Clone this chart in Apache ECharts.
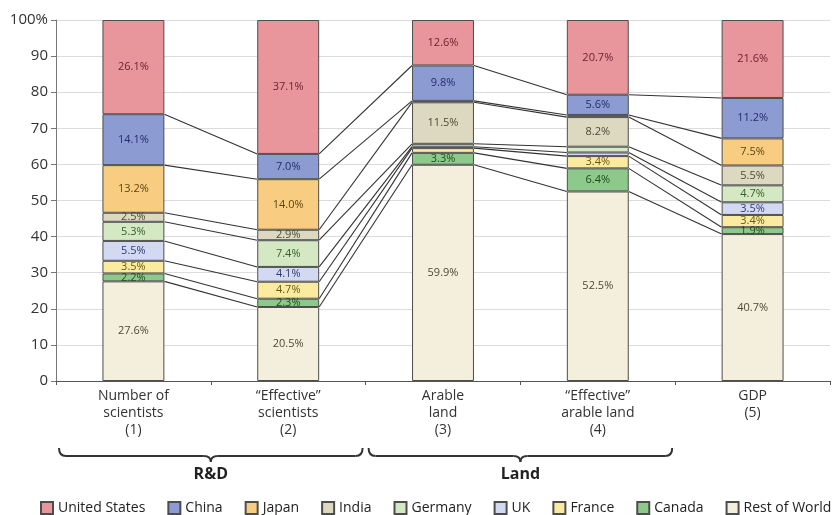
<!DOCTYPE html>
<html>
<head>
<meta charset="utf-8">
<script src="https://cdn.jsdelivr.net/npm/echarts@6/dist/echarts.min.js"></script>
<style>
html,body{margin:0;padding:0;background:#fff;}
#chart{width:833px;height:515px;}
</style>
</head>
<body>
<div id="chart"></div>
<script>
// Categories (x axis)
const categories = ['Number of\nscientists\n(1)', '\u201cEffective\u201d\nscientists\n(2)', 'Arable\nland\n(3)', '\u201cEffective\u201d\narable land\n(4)', 'GDP\n(5)'];
// Series values, percent share (stack order bottom -> top)
const restOfWorld  = [27.6, 20.5, 59.9, 52.5, 40.7];
const canada       = [2.2, 2.3, 3.3, 6.4, 1.9];
const france       = [3.5, 4.7, 1.3, 3.4, 3.4];
const uk           = [5.5, 4.1, 0.4, 1.0, 3.5];
const germany      = [5.3, 7.4, 0.8, 1.6, 4.7];
const india        = [2.5, 2.9, 11.5, 8.2, 5.5];
const japan        = [13.2, 14.0, 0.4, 0.6, 7.5];
const china        = [14.1, 7.0, 9.8, 5.6, 11.2];
const unitedStates = [26.1, 37.1, 12.6, 20.7, 21.6];
// Y tick labels
const yTicks = [0, 10, 20, 30, 40, 50, 60, 70, 80, 90, 100];
// Group braces
const groups = [{name: 'R&D', from: 0, to: 1}, {name: 'Land', from: 2, to: 3}];

const seriesDefs = [
  {name: 'Rest of World', data: restOfWorld, color: '#F4EEDC', text: '#4a4a3a'},
  {name: 'Canada', data: canada, color: '#8DC98A', text: '#1d4d1d'},
  {name: 'France', data: france, color: '#FBEBA0', text: '#6a5a10'},
  {name: 'UK', data: uk, color: '#D3D9F1', text: '#2f3a78'},
  {name: 'Germany', data: germany, color: '#D4E8C4', text: '#355f2c'},
  {name: 'India', data: india, color: '#DDD9C0', text: '#4e4a36'},
  {name: 'Japan', data: japan, color: '#F8CD82', text: '#5e4510'},
  {name: 'China', data: china, color: '#8C9BD2', text: '#232e6a'},
  {name: 'United States', data: unitedStates, color: '#E8959C', text: '#6a1f2a'}
];
const legendOrder = ['United States', 'China', 'Japan', 'India', 'Germany', 'UK', 'France', 'Canada', 'Rest of World'];

// cumulative boundaries for connector lines
const connectorData = [];
for (let s = 0; s < seriesDefs.length - 1; s++) {
  const cum = categories.map((_, i) => {
    let t = 0;
    for (let k = 0; k <= s; k++) t += seriesDefs[k].data[i];
    return t;
  });
  for (let i = 0; i < categories.length - 1; i++) {
    connectorData.push([i, cum[i], cum[i + 1]]);
  }
}

const FONT = 'Open Sans';
const BARW = 0.4;

const series = seriesDefs.map(d => ({
  name: d.name,
  type: 'bar',
  stack: 'total',
  barWidth: (BARW * 100) + '%',
  data: d.data,
  z: 3,
  itemStyle: {color: d.color, borderColor: '#4d4d4d', borderWidth: 1},
  label: {
    show: true,
    position: 'inside',
    fontFamily: FONT,
    fontSize: 11,
    color: d.text,
    formatter: p => (p.value >= 1.8 ? p.value.toFixed(1) + '%' : '')
  },
  emphasis: {disabled: true}
}));

series.push({
  type: 'custom',
  name: 'connectors',
  data: connectorData,
  encode: {x: 0, y: 1},
  z: 2,
  silent: true,
  renderItem: function (params, api) {
    const i = api.value(0);
    const p0 = api.coord([i, api.value(1)]);
    const p1 = api.coord([i + 1, api.value(2)]);
    const half = api.size([1, 0])[0] * BARW / 2;
    return {
      type: 'line',
      shape: {x1: p0[0] + half, y1: p0[1], x2: p1[0] - half, y2: p1[1]},
      style: {stroke: '#333', lineWidth: 1.1}
    };
  }
});

const chart = echarts.init(document.getElementById('chart'), null, {renderer: 'canvas'});
chart.setOption({
  animation: false,
  backgroundColor: '#fff',
  grid: {left: 56, right: 3, top: 20, bottom: 134, containLabel: false},
  legend: {
    data: legendOrder,
    top: 499,
    left: 40,
    padding: [0, 0],
    itemWidth: 12,
    itemHeight: 12,
    itemGap: 22,
    icon: 'rect',
    textStyle: {fontFamily: FONT, fontSize: 14, color: '#222', lineHeight: 18}
  },
  xAxis: {
    type: 'category',
    data: categories,
    axisLine: {lineStyle: {color: '#555', width: 1}},
    axisTick: {show: true, length: 4, lineStyle: {color: '#555'}},
    axisLabel: {fontFamily: FONT, fontSize: 14, color: '#333', lineHeight: 17, margin: 7, interval: 0}
  },
  yAxis: {
    type: 'value',
    min: 0, max: 100, interval: 10,
    axisLine: {show: true, lineStyle: {color: '#777'}},
    axisTick: {show: true, length: 5, lineStyle: {color: '#777'}},
    splitLine: {lineStyle: {color: '#dcdcdc'}},
    axisLabel: {
      fontFamily: FONT, fontSize: 15, color: '#333', margin: 8,
      formatter: v => (yTicks.indexOf(v) >= 0 ? (v === 100 ? '100%' : String(v)) : '')
    }
  },
  series: series
});

// braces under category groups
const c0 = chart.convertToPixel({xAxisIndex: 0}, 0);
const c1 = chart.convertToPixel({xAxisIndex: 0}, 1);
const band = c1 - c0;
const yLine = 456, yEnd = 448, yTip = 462;
const graphics = [];
const braceStyle = {stroke: '#333', lineWidth: 2, fill: null};
groups.forEach(g => {
  const x0 = c0 + (g.from - 0.5) * band + 3;
  const x1 = c0 + (g.to + 0.5) * band - 3;
  const tip = (x0 + x1) / 2;
  const r = 7;
  const curves = [
    [x0, yEnd, x0 + r, yLine, x0, yLine],
    [tip - r, yLine, tip, yTip, tip, yLine],
    [tip, yTip, tip + r, yLine, tip, yLine],
    [x1 - r, yLine, x1, yEnd, x1, yLine]
  ];
  curves.forEach(c => graphics.push({
    type: 'bezierCurve',
    shape: {x1: c[0], y1: c[1], x2: c[2], y2: c[3], cpx1: c[4], cpy1: c[5]},
    style: braceStyle, silent: true
  }));
  graphics.push({type: 'line', shape: {x1: x0 + r, y1: yLine, x2: tip - r, y2: yLine}, style: braceStyle, silent: true});
  graphics.push({type: 'line', shape: {x1: tip + r, y1: yLine, x2: x1 - r, y2: yLine}, style: braceStyle, silent: true});
  graphics.push({
    type: 'text', x: tip, y: 474,
    style: {text: g.name, fontFamily: FONT, fontWeight: 'bold', fontSize: 16, fill: '#222', align: 'center', verticalAlign: 'middle'},
    silent: true
  });
});
chart.setOption({graphic: graphics});
</script>
</body>
</html>
